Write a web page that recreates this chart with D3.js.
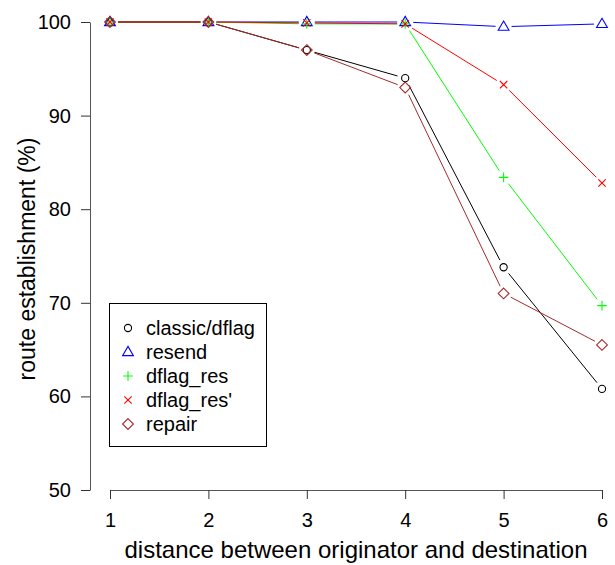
<!DOCTYPE html>
<html>
<head>
<meta charset="utf-8">
<script src="https://cdn.jsdelivr.net/npm/d3@7"></script>
<style>
  html, body { margin: 0; padding: 0; background: #fff; }
  svg { display: block; }
  text { font-family: "Liberation Sans", Arial, Helvetica, sans-serif; }
</style>
</head>
<body>
<svg id="chart" width="615" height="565"></svg>
<script>
const distances = [1, 2, 3, 4, 5, 6];
const seriesNames = ["classic/dflag", "resend", "dflag_res", "dflag_res'", "repair"];
const classicValues = [100, 100, 97.0, 94.0, 73.8, 60.8];
const resendValues  = [100, 100, 100, 100, 99.5, 99.8];
const dflagResValues = [100, 100, 99.8, 99.8, 83.4, 69.7];
const dflagResPrimeValues = [100, 100, 99.9, 99.8, 93.3, 82.8];
const repairValues  = [100, 100, 97.0, 93.0, 71.0, 65.5];
const xTicks = [1, 2, 3, 4, 5, 6];
const yTicks = [50, 60, 70, 80, 90, 100];
const xTitle = "distance between originator and destination";
const yTitle = "route establishment (%)";

const seriesValues = [classicValues, resendValues, dflagResValues, dflagResPrimeValues, repairValues];
const colors = ["#000000", "#0000ff", "#00ff00", "#ff0000", "#a52a2a"];
const shapes = ["circle", "triangle", "plus", "x", "diamond"];

function markerPath(shape) {
  switch (shape) {
    case "circle": { const r = 3.6; return `M${r},0A${r},${r} 0 1,1 ${-r},0A${r},${r} 0 1,1 ${r},0Z`; }
    case "triangle": return "M0,-5.6L5.4,3.6L-5.4,3.6Z";
    case "plus": return "M-4.8,0H4.8M0,-4.8V4.8";
    case "x": return "M-3.7,-3.7L3.7,3.7M-3.7,3.7L3.7,-3.7";
    case "diamond": return "M0,-5.4L5.4,0L0,5.4L-5.4,0Z";
  }
}

const svg = d3.select("#chart");
const x = d3.scaleLinear().domain([1, 6]).range([110, 602]);
const y = d3.scaleLinear().domain([50, 100]).range([490, 22]);

// axes
const yAxis = d3.axisLeft(y).tickValues(yTicks).tickFormat(d3.format("d"))
  .tickSize(9).tickPadding(10).tickSizeOuter(0);
const xAxis = d3.axisBottom(x).tickValues(xTicks).tickFormat(d3.format("d"))
  .tickSize(9).tickPadding(14).tickSizeOuter(0);

const gy = svg.append("g").attr("transform", "translate(90,0)").call(yAxis);
const gx = svg.append("g").attr("transform", "translate(0,490)").call(xAxis);
[gx, gy].forEach(g => {
  g.attr("font-size", 20).attr("font-family", "'Liberation Sans', Arial, Helvetica, sans-serif");
  g.selectAll("path.domain").attr("stroke", "#555").attr("stroke-width", 1);
  g.selectAll(".tick line").attr("stroke", "#333");
  g.selectAll(".tick text").attr("fill", "#000");
});

// titles
svg.append("text").attr("x", 356).attr("y", 558).attr("text-anchor", "middle")
  .attr("font-size", 24).text(xTitle);
svg.append("text").attr("transform", "translate(35,259) rotate(-90)")
  .attr("text-anchor", "middle").attr("font-size", 23).text(yTitle);

// series lines with gaps (type = "b")
const gap = 8;
seriesValues.forEach((vals, si) => {
  const g = svg.append("g");
  for (let i = 0; i < distances.length - 1; i++) {
    const x0 = x(distances[i]), y0 = y(vals[i]);
    const x1 = x(distances[i + 1]), y1 = y(vals[i + 1]);
    const dx = x1 - x0, dy = y1 - y0;
    const len = Math.hypot(dx, dy);
    if (len <= 2 * gap) continue;
    const ux = dx / len, uy = dy / len;
    g.append("line")
      .attr("x1", x0 + ux * gap).attr("y1", y0 + uy * gap)
      .attr("x2", x1 - ux * gap).attr("y2", y1 - uy * gap)
      .attr("stroke", colors[si]).attr("stroke-width", 1);
  }
  g.selectAll("path.pt").data(distances).enter().append("path")
    .attr("class", "pt")
    .attr("transform", (d, i) => `translate(${x(d)},${y(vals[i])})`)
    .attr("d", markerPath(shapes[si]))
    .attr("fill", "none").attr("stroke", colors[si]).attr("stroke-width", 1.1);
});

// legend
const lg = svg.append("g");
lg.append("rect").attr("x", 109.5).attr("y", 303.5).attr("width", 157).attr("height", 143)
  .attr("fill", "#fff").attr("stroke", "#000").attr("stroke-width", 1);
seriesNames.forEach((name, i) => {
  const cy = 328 + i * 24;
  lg.append("path").attr("transform", `translate(128,${cy})`).attr("d", markerPath(shapes[i]))
    .attr("fill", "none").attr("stroke", colors[i]).attr("stroke-width", 1.1);
  lg.append("text").attr("x", 146).attr("y", cy).attr("dy", "0.35em")
    .attr("font-size", 20).text(name);
});
</script>
</body>
</html>
